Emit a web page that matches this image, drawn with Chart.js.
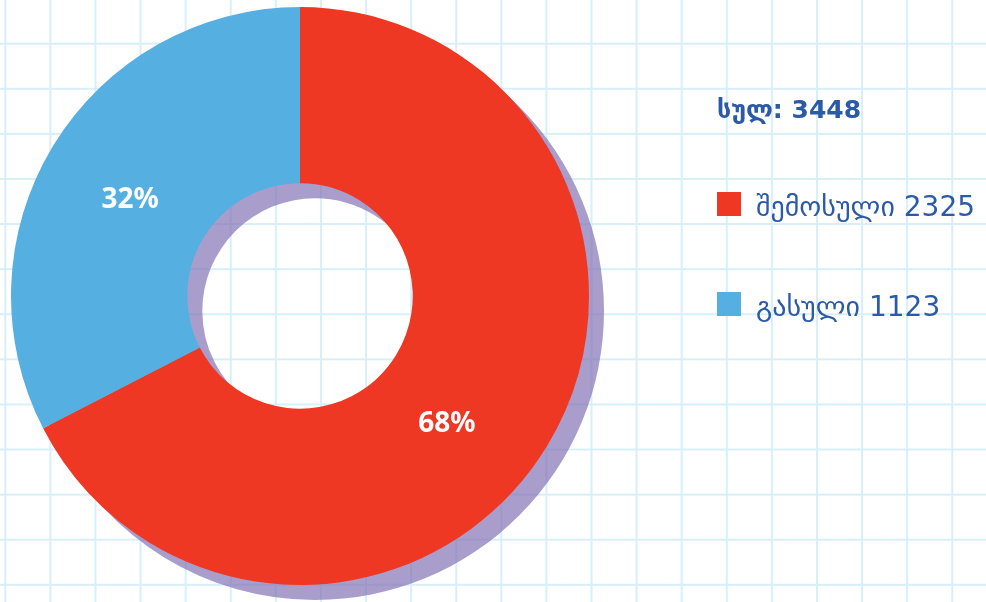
<!DOCTYPE html>
<html>
<head>
<meta charset="utf-8">
<script src="https://cdn.jsdelivr.net/npm/chart.js@4.4.1/dist/chart.umd.min.js"></script>
<style>
  html, body { margin: 0; padding: 0; }
  body {
    width: 986px; height: 602px; overflow: hidden;
    background-color: #ffffff;
    background-image:
      linear-gradient(to right, #d7eff9 1.5px, transparent 1.5px),
      linear-gradient(to bottom, #d7eff9 1.5px, transparent 1.5px);
    background-size: 45.1px 45.1px;
    background-position: 4.3px -2.4px;
  }
  #wrap { position: absolute; left: 0; top: 0; width: 986px; height: 602px; }
</style>
</head>
<body>
<div id="wrap"><canvas id="chart-area"></canvas></div>
<script>
// données
const categories = ["შემოსული", "გასული"];
const valeurs = [2325, 1123];
const pourcents = ["68%", "32%"];
const couleurs = ["#ee3823", "#55b0e1"];
const titreTotal = "სულ:";

const total = valeurs.reduce((a, b) => a + b, 0);
const bleuTexte = "#2b5aa7";

// ombre violette derriere l'anneau
const ombre = {
  id: "ombre",
  beforeDatasetsDraw(chart) {
    const ctx = chart.ctx;
    const meta = chart.getDatasetMeta(0);
    ctx.save();
    ctx.translate(15, 15);
    ctx.fillStyle = "rgba(131,115,181,0.7)";
    ctx.beginPath();
    meta.data.forEach(arc => {
      const p = arc.getProps(["x", "y", "startAngle", "endAngle", "innerRadius", "outerRadius"], true);
      ctx.moveTo(p.x + p.outerRadius * Math.cos(p.startAngle), p.y + p.outerRadius * Math.sin(p.startAngle));
      ctx.arc(p.x, p.y, p.outerRadius, p.startAngle, p.endAngle);
      ctx.arc(p.x, p.y, p.innerRadius, p.endAngle, p.startAngle, true);
      ctx.closePath();
    });
    ctx.fill();
    ctx.restore();
  }
};

// pourcentages sur les parts
const etiquettes = {
  id: "etiquettes",
  afterDatasetsDraw(chart, args, opts) {
    const ctx = chart.ctx;
    const meta = chart.getDatasetMeta(0);
    ctx.save();
    ctx.fillStyle = "#ffffff";
    ctx.font = "bold 28px 'Noto Sans', sans-serif";
    ctx.textAlign = "center";
    ctx.textBaseline = "middle";
    meta.data.forEach((arc, i) => {
      const p = arc.getProps(["x", "y", "startAngle", "endAngle", "innerRadius", "outerRadius"], true);
      const a = (p.startAngle + p.endAngle) / 2 + (opts.decalage[i] || 0);
      const r = (p.innerRadius + p.outerRadius) / 2 - 6;
      ctx.fillText(pourcents[i], p.x + r * Math.cos(a), p.y + r * Math.sin(a));
    });
    ctx.restore();
  }
};

// legende a droite
const legende = {
  id: "legende",
  afterDraw(chart) {
    const ctx = chart.ctx;
    ctx.save();
    ctx.textBaseline = "alphabetic";
    ctx.textAlign = "left";
    ctx.fillStyle = bleuTexte;
    ctx.font = "bold 25px 'DejaVu Sans', sans-serif";
    ctx.fillText(titreTotal + " " + total, 717, 118);
    ctx.font = "28px 'DejaVu Sans', sans-serif";
    categories.forEach((c, i) => {
      const y = 192 + i * 100;
      ctx.fillStyle = couleurs[i];
      ctx.fillRect(717, y, 24, 24);
      ctx.fillStyle = bleuTexte;
      ctx.fillText(c + " " + valeurs[i], 756, y + 24);
    });
    ctx.restore();
  }
};

const ctx = document.getElementById("chart-area").getContext("2d");
window.monDonut = new Chart(ctx, {
  type: "doughnut",
  data: {
    labels: categories,
    datasets: [{
      data: valeurs,
      backgroundColor: couleurs,
      borderWidth: 0,
      hoverOffset: 0
    }]
  },
  options: {
    responsive: true,
    maintainAspectRatio: false,
    animation: false,
    cutout: "39%",
    layout: { padding: { left: 11, right: 397, top: 7, bottom: 17 } },
    plugins: {
      legend: { display: false },
      tooltip: { enabled: false },
      etiquettes: { decalage: [0.17, -0.035] }
    }
  },
  plugins: [ombre, etiquettes, legende]
});
</script>
</body>
</html>
